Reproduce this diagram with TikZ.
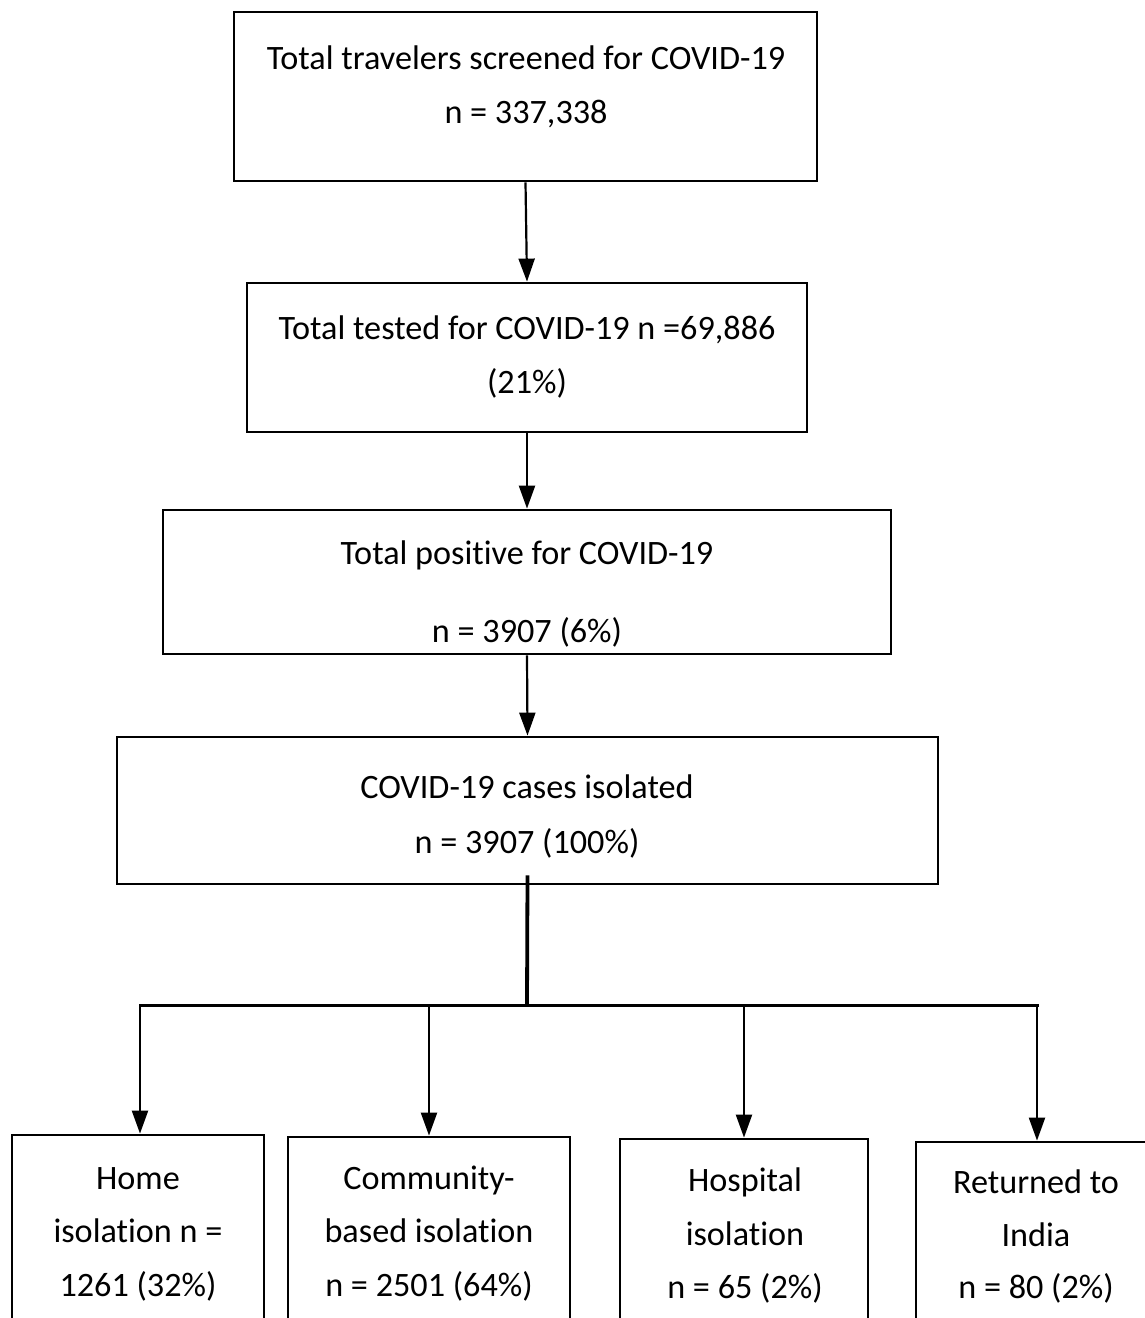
\documentclass[tikz,border=0pt]{standalone}
\usepackage{fontspec}
\setmainfont{Carlito}[Ligatures=NoCommon]
\usetikzlibrary{arrows.meta}
\begin{document}
\begin{tikzpicture}[x=1pt,y=-1pt,
  box/.style={draw, line width=2.8pt, rectangle, inner sep=0pt},
  txt/.style={anchor=base, inner sep=0pt, font=\fontsize{34.2}{40}\selectfont},
  arr/.style={line width=2.2pt, -{Triangle[length=23pt,width=16pt]}},
  stem/.style={line width=3.8pt},
  bar/.style={line width=3pt, line cap=rect},
]
\useasboundingbox (0,0) rectangle (1145,1318);
\clip (0,0) rectangle (1145,1318);
\fill[white] (0,0) rectangle (1145,1318);

% main boxes
\node[box, minimum width=583pt, minimum height=169pt] (b1) at (525.5,96.5) {};
\node[box, minimum width=560pt, minimum height=149pt] (b2) at (527,357.5) {};
\node[box, minimum width=728pt, minimum height=144pt] (b3) at (527,582) {};
\node[box, minimum width=821pt, minimum height=147pt] (b4) at (527.5,810.5) {};

% bottom boxes (cut off by the lower edge)
\node[box, minimum width=252pt, minimum height=265pt] (b5) at (138,1267.5) {};
\node[box, minimum width=282pt, minimum height=263pt] (b6) at (429,1268.5) {};
\node[box, minimum width=248pt, minimum height=261pt] (b7) at (744,1269.5) {};
\node[box, minimum width=264pt, minimum height=258pt] (b8) at (1048,1271) {};

% texts
\node[txt] (t1a) at (526,69) {Total travelers screened for COVID-19};
\node[txt] (t1b) at (526,123) {n = 337,338};
\node[txt] (t2a) at (527,339) {Total tested for COVID-19 n =69,886};
\node[txt] (t2b) at (527,393) {(21\%)};
\node[txt] (t3a) at (527,564) {Total positive for COVID-19};
\node[txt] (t3b) at (527,642) {n = 3907 (6\%)};
\node[txt] (t4a) at (527,798) {COVID-19 cases isolated};
\node[txt] (t4b) at (527,853) {n = 3907 (100\%)};

\node[txt] (t5a) at (138,1189) {Home};
\node[txt] (t5b) at (138,1242) {isolation n =};
\node[txt] (t5c) at (138,1296) {1261 (32\%)};
\node[txt] (t6a) at (429,1189) {Community-};
\node[txt] (t6b) at (429,1242) {based isolation};
\node[txt] (t6c) at (429,1296) {n = 2501 (64\%)};
\node[txt] (t7a) at (745,1191) {Hospital};
\node[txt] (t7b) at (745,1245) {isolation};
\node[txt] (t7c) at (745,1298) {n = 65 (2\%)};
\node[txt] (t8a) at (1036,1193) {Returned to};
\node[txt] (t8b) at (1036,1246) {India};
\node[txt] (t8c) at (1036,1298) {n = 80 (2\%)};

% connectors
\draw[arr] (b1.south) -- (b2.north);
\draw[arr] (b2.south) -- (b3.north);
\draw[arr] (b3.south) -- (b4.north);

\coordinate (j) at (527,1005);
\coordinate (s) at ([yshift=10pt]b4.south);
\draw[stem] (s) -- (j);
\coordinate (j5) at (140,1005);
\coordinate (j6) at (429,1005);
\coordinate (j7) at (744,1005);
\coordinate (j8) at (1037,1005);
\draw[bar] (j5) -- (j8);
\draw[arr] (j5) -- (j5 |- b5.north);
\draw[arr] (j6) -- (j6 |- b6.north);
\draw[arr] (j7) -- (j7 |- b7.north);
\draw[arr] (j8) -- (j8 |- b8.north);
\end{tikzpicture}
\end{document}
